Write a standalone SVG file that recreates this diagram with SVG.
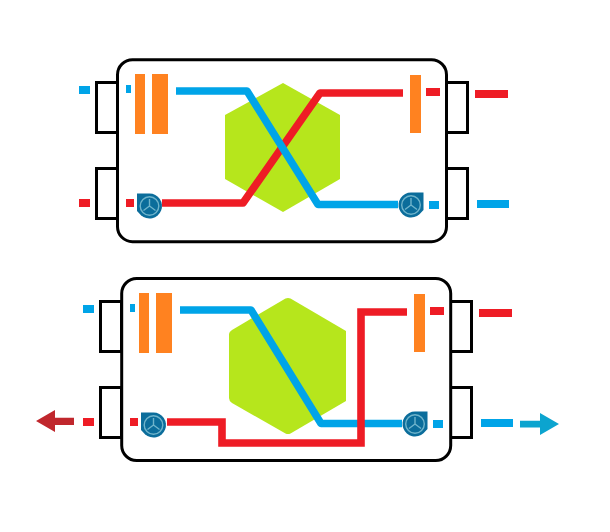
<svg xmlns="http://www.w3.org/2000/svg" width="610" height="532" viewBox="0 0 610 532">
<style>
.box{fill:#fff;stroke:#000;stroke-width:3}
.duct{fill:#fff;stroke:#000;stroke-width:3}
.hex{fill:#b6e61c}
.org{fill:#ff8220}
.r{fill:#ee1c25}
.b{fill:#00a4e8}
.rl{fill:none;stroke:#ee1c25;stroke-width:7.6;stroke-linejoin:round}
.rm{fill:none;stroke:#ee1c25;stroke-width:7.6;stroke-linejoin:miter}
.bl{fill:none;stroke:#00a4e8;stroke-width:7.6;stroke-linejoin:round}
.fb{fill:#0b6d9b}
.fr{fill:none;stroke:#6fb4cb;stroke-width:1.4}
</style>
<defs>
<g id="fan">
<path class="fb" d="M-12.500-12.500H0A12.500 12.500 0 1 1 -8.500 9.200L-12.500 5Z"/>
<circle class="fr" r="9.300"/>
<path class="fr" d="M0 0V-7M0 0L-6 4.500M0 0L6 4.500"/>
</g>
<g id="fanR">
<path class="fb" d="M12.500-12.500H0A12.500 12.500 0 1 0 8.500 9.200L12.500 5Z"/>
<circle class="fr" r="9.300"/>
<path class="fr" d="M0 0V-7M0 0L-6 4.500M0 0L6 4.500"/>
</g>
</defs>
<g id="unit-top">
<g id="top-ducts">
<rect class="duct" x="96.500" y="82.500" width="21" height="50"/>
<rect class="duct" x="96.500" y="168.500" width="21" height="50"/>
<rect class="duct" x="446" y="82.500" width="21.500" height="50"/>
<rect class="duct" x="446" y="168.500" width="21.500" height="50"/>
</g>
<rect id="top-casing" class="box" x="117.500" y="59.700" width="329" height="182" rx="15"/>
<path id="top-core" class="hex" d="M283 83L340 115V179L283 212L225 179V115Z"/>
<g id="top-filters">
<rect class="org" x="135" y="74" width="10" height="60"/>
<rect class="org" x="152" y="74" width="16" height="60"/>
<rect class="org" x="410" y="75" width="11" height="58"/>
</g>
<g id="top-connectors">
<path class="rl" d="M162 203H243L320 93H403"/>
<path class="bl" d="M176 91H247L318 204.500H398"/>
<rect class="b" x="79" y="86" width="11" height="8"/>
<rect class="b" x="126" y="85" width="5" height="8"/>
<rect class="r" x="79" y="199" width="11" height="8"/>
<rect class="r" x="126" y="199" width="8" height="8"/>
<rect class="r" x="426" y="88" width="14" height="8"/>
<rect class="r" x="475" y="90" width="33" height="8"/>
<rect class="b" x="429" y="201" width="10" height="8"/>
<rect class="b" x="477" y="200" width="32" height="8"/>
</g>
<use id="top-fan-left" href="#fan" x="149.500" y="206"/>
<use id="top-fan-right" href="#fanR" x="411" y="205"/>
</g>
<g id="unit-bottom">
<g id="bottom-ducts">
<rect class="duct" x="100.500" y="301.500" width="21" height="50"/>
<rect class="duct" x="100.500" y="387.500" width="21" height="50"/>
<rect class="duct" x="450" y="301.500" width="21.500" height="50"/>
<rect class="duct" x="450" y="387.500" width="21.500" height="50"/>
</g>
<rect id="bottom-casing" class="box" x="121.700" y="278.500" width="329" height="182" rx="15"/>
<path id="bottom-core" class="hex" d="M285.500 298.500Q288 297.500 290.500 298.500L346 331V401L290.500 433.500Q288 434.500 285.500 433.500L232 403Q229 401 229 398V334Q229 332 232 330Z"/>
<g id="bottom-filters">
<rect class="org" x="139" y="293" width="10" height="60"/>
<rect class="org" x="156" y="293" width="16" height="60"/>
<rect class="org" x="414" y="294" width="11" height="58"/>
</g>
<g id="bottom-connectors">
<path class="bl" d="M180 310H251L321 423.500H402"/>
<path class="rm" d="M167 422H222V443H361V312H407"/>
<rect class="b" x="83" y="305" width="11" height="8"/>
<rect class="b" x="130" y="304" width="5" height="8"/>
<rect class="r" x="83" y="418" width="11" height="8"/>
<rect class="r" x="130" y="418" width="8" height="8"/>
<rect class="r" x="430" y="307" width="14" height="8"/>
<rect class="r" x="479" y="309" width="33" height="8"/>
<rect class="b" x="433" y="420" width="10" height="8"/>
<rect class="b" x="481" y="419" width="32" height="8"/>
<path fill="#c0272d" d="M36 421L55 410V417.700H74V425H55V432Z"/>
<path fill="#0ca4cf" d="M559 424L540 413V420.700H520V427.500H540V435Z"/>
</g>
<use id="bottom-fan-left" href="#fan" x="153.500" y="425"/>
<use id="bottom-fan-right" href="#fanR" x="415" y="424"/>
</g>
</svg>
